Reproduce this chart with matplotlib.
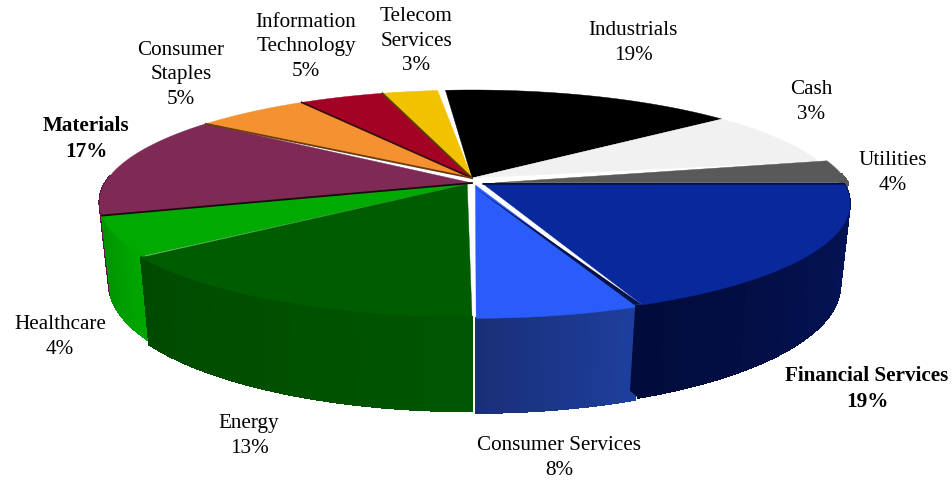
#!/usr/bin/env python3
import math

import matplotlib
matplotlib.use('Agg')
import matplotlib.pyplot as plt
import numpy as np

# clockwise from the top of the pie
names = ['Industrials', 'Cash', 'Utilities', 'Financial Services', 'Consumer Services',
         'Energy', 'Healthcare', 'Materials', 'Consumer Staples',
         'Information Technology', 'Telecom Services']
percents = [19, 3, 4, 19, 8, 13, 4, 17, 5, 5, 3]
# the drawn slices do not follow the labels, so these arcs are read off the picture (degrees)
arc_degrees = [55.5, 29, 12, 67, 21.2, 52.3, 20, 53.5, 21.5, 16, 10.5]
explode = [0.0, 0.0, 0.025, 0.015, 0.02, 0.012, 0.0, 0.0, 0.0, 0.0, 0.0]

top_colors = ['#000000', '#f1f1f1', '#595959', '#08289c', '#2a5cfa', '#005c00',
              '#00aa00', '#7f2a55', '#f49232', '#a30224', '#f2c200']
wall_light = ['#000000', '#f1f1f1', '#595959', '#04165e', '#1d3f9e', '#005600',
              '#00a800', '#5f1a45', '#f49232', '#a30224', '#f2c200']
wall_dark = ['#000000', '#f1f1f1', '#595959', '#020c3c', '#1a2f78', '#004a00',
             '#009400', '#4a1034', '#f49232', '#a30224', '#f2c200']
shadow_colors = {'Materials': '#1a0a10', 'Consumer Staples': '#6a3a10',
                 'Information Technology': '#3a0a10', 'Telecom Services': '#5a4000',
                 'Financial Services': '#04103c'}

label_lines = [['Industrials'], ['Cash'], ['Utilities'], ['Financial Services'],
               ['Consumer Services'], ['Energy'], ['Healthcare'], ['Materials'],
               ['Consumer', 'Staples'], ['Information', 'Technology'], ['Telecom', 'Services']]
label_xy = [(633, 43), (811, 102), (893, 173), (867, 389), (559, 458), (249, 436),
            (60, 337), (86, 139), (181, 75), (306, 47), (416, 41)]
bold_labels = {'Financial Services', 'Materials'}

START_DEG = 95.0
CX, CY = 472, 180
RX, RY = 365, 108
PERSP = 5.0
DEPTH = 78
BOTTOM_SCALE = 0.975


def project(theta, mid, ex, low=False):
    x = np.cos(theta) + ex * np.cos(mid)
    y = np.sin(theta) + ex * np.sin(mid)
    s = PERSP / (PERSP + y)
    sx = RX * x * s
    sy = -RY * y * s
    if low:
        return CX + sx * BOTTOM_SCALE, CY + sy * BOTTOM_SCALE + DEPTH * s
    return CX + sx, CY + sy


def blend(c1, c2, t):
    a = np.array(matplotlib.colors.to_rgb(c1))
    b = np.array(matplotlib.colors.to_rgb(c2))
    return a + (b - a) * t


fig = plt.figure(figsize=(9.52, 4.8), dpi=100)
ax = fig.add_axes([0, 0, 1, 1])
ax.set_xlim(0, 952)
ax.set_ylim(480, 0)
ax.axis('off')

ends = START_DEG - np.cumsum(arc_degrees)
starts = ends + np.array(arc_degrees)

# back slices first, the front ones paint over them
order = [0, 1, 2, 10, 9, 8, 7, 6, 5, 4, 3]
for i in order:
    a0 = math.radians(starts[i])
    a1 = math.radians(ends[i])
    mid = (a0 + a1) / 2
    ex = explode[i]
    theta = np.linspace(a0, a1, 80)

    # outer wall as thin strips so the shade can change along it
    strips = np.linspace(a0, a1, 25)
    for k in range(len(strips) - 1):
        t = np.linspace(strips[k], strips[k + 1], 4)
        if np.sin(t).mean() > 0.05:
            continue
        ux, uy = project(t, mid, ex)
        lx, ly = project(t, mid, ex, low=True)
        col = blend(wall_light[i], wall_dark[i], k / (len(strips) - 2))
        ax.fill(np.r_[ux, lx[::-1]], np.r_[uy, ly[::-1]], facecolor=col, edgecolor=col,
                lw=0.8, antialiased=False)

    # top face, the slice point sits near the pie centre, pushed further out than the rim
    px = CX + RX * ex * 2.5 * math.cos(mid)
    py = CY - RY * ex * math.sin(mid) + (3 if math.sin(mid) < 0.2 else -2)
    ux, uy = project(theta, mid, ex)

    # Financial Services shows its cut face next to Consumer Services
    if names[i] == 'Financial Services':
        ex_x, ex_y = project(a1, mid, ex)
        lo_x, lo_y = project(a1, mid, ex, low=True)
        ax.fill([ex_x - 7, ex_x, lo_x, lo_x - 8], [ex_y, ex_y, lo_y, lo_y - 7],
                color='#020c3c', lw=0)
        ax.fill([px - 12, ex_x - 8, ex_x], [py + 1, ex_y, ex_y], color='#04124a', lw=0)

    ax.fill(np.r_[px, ux], np.r_[py, uy], facecolor=top_colors[i], edgecolor=top_colors[i], lw=0.3)

    if names[i] in shadow_colors:
        ax.plot([px, ux[0]], [py, uy[0]], color=shadow_colors[names[i]], lw=1.3)

for lines, pct, name, (lx, ly) in zip(label_lines, percents, names, label_xy):
    weight = 'bold' if name in bold_labels else 'normal'
    ax.text(lx, ly, '\n'.join(lines + [f'{pct}%']), ha='center', va='center',
            family='Liberation Serif', fontsize=15.2, weight=weight,
            color='black', linespacing=1.39)

fig.savefig('out.png', dpi=100)
